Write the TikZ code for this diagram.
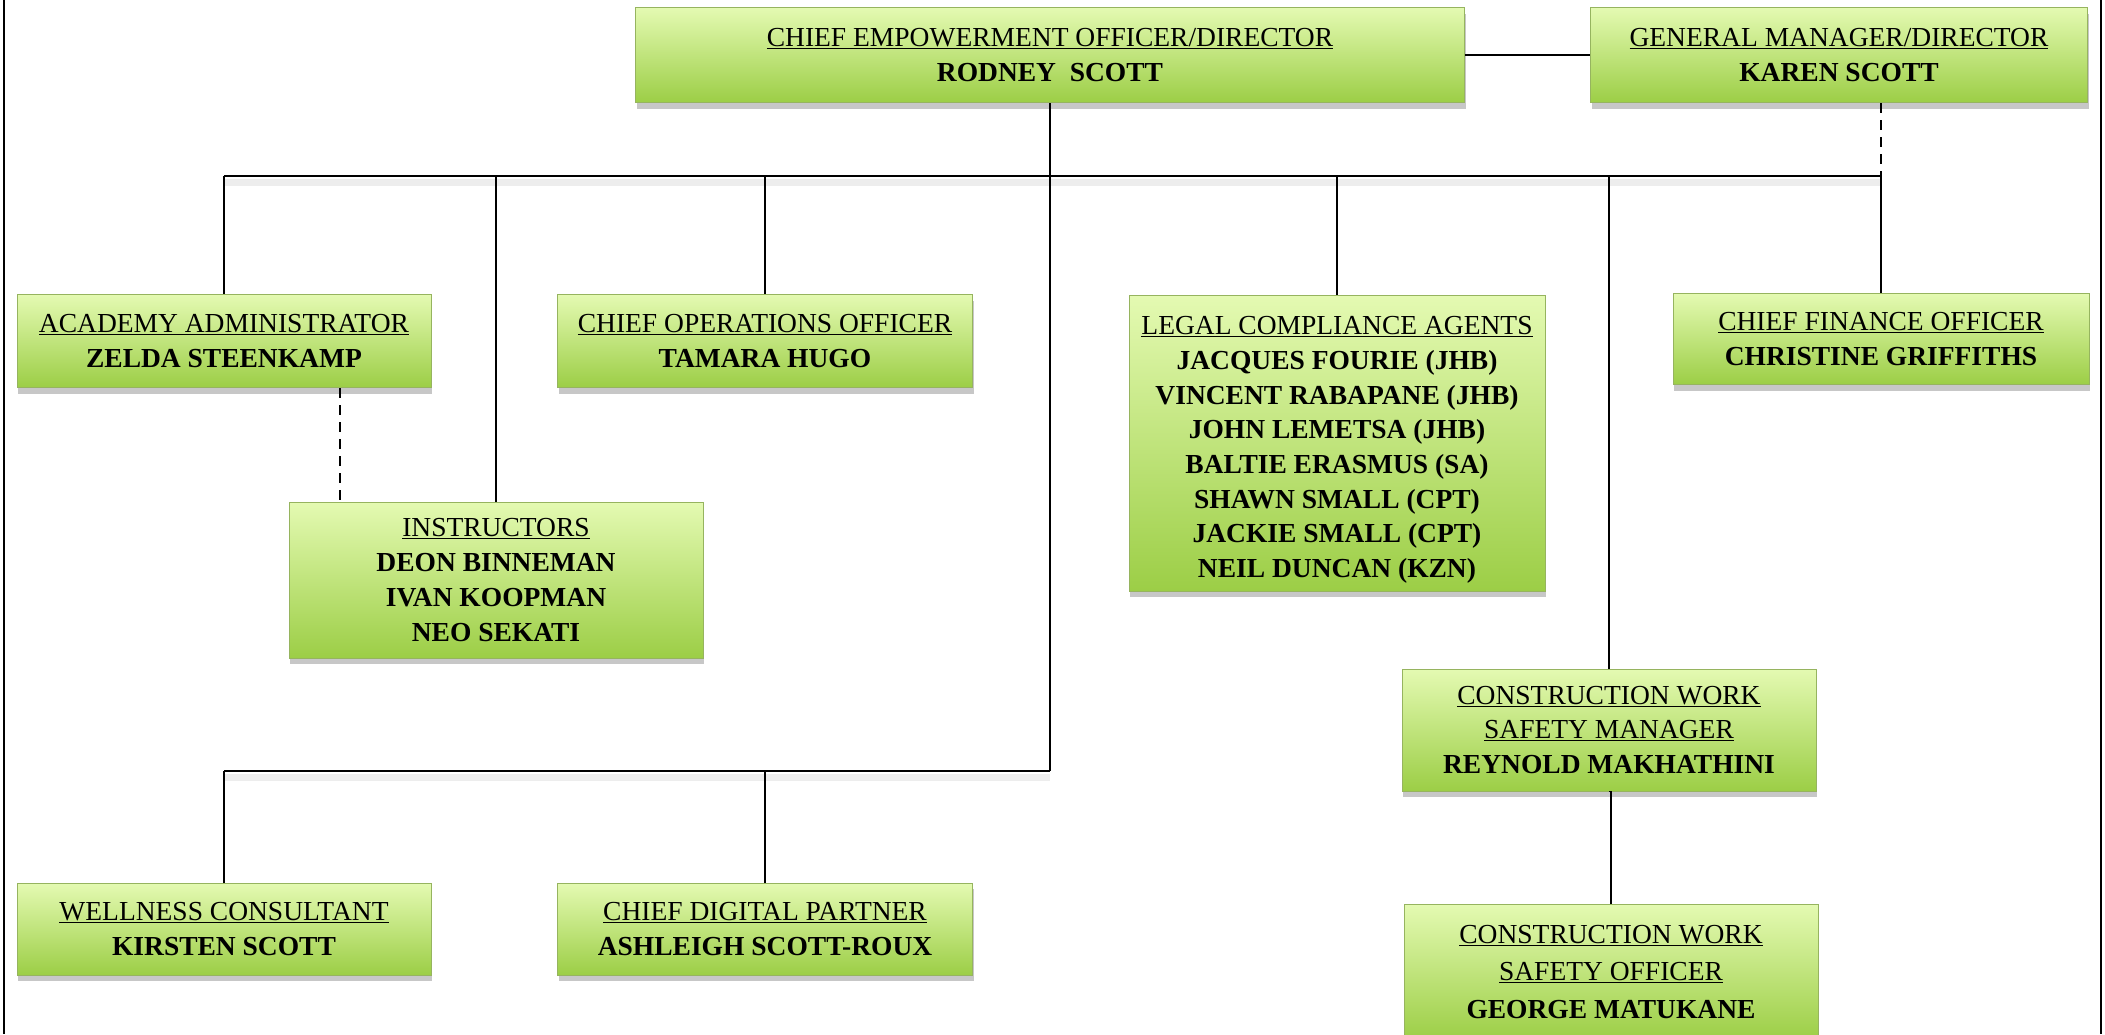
\documentclass[tikz,border=0pt]{standalone}
\usepackage{fontspec}
\setmainfont{Liberation Serif}
\usetikzlibrary{shadows}
\definecolor{gtop}{RGB}{228,250,178}
\definecolor{gmid}{RGB}{206,242,130}
\definecolor{gbot}{RGB}{156,206,70}
\definecolor{gedge}{RGB}{150,180,95}
\tikzset{
  orgbox/.style={draw=gedge, line width=1pt, top color=gtop, middle color=gmid, bottom color=gbot,
    shading angle=0, align=center, inner sep=0pt,
    font=\fontsize{27.5}{34.7}\selectfont,
    drop shadow={shadow xshift=1pt, shadow yshift=-6pt, opacity=0.22, fill=black}},
  conn/.style={line width=1.8pt, black},
  bar/.style={line width=2.4pt, black},
  barshade/.style={line width=7pt, black, opacity=0.07},
  dotconn/.style={line width=1.8pt, black, dash pattern=on 10pt off 7pt},
  frameline/.style={line width=2pt, black}
}
\begin{document}
\begin{tikzpicture}[x=1pt,y=-1pt]
\clip (0,0) rectangle (2105,1034);
\fill[white] (0,0) rectangle (2105,1034);
% frame
\coordinate (fTL) at (4,0); \coordinate (fBL) at (4,1034);
\coordinate (fTR) at (2101,0); \coordinate (fBR) at (2101,1034);
\draw[frameline] (fTL) -- (fBL);
\draw[frameline] (fTR) -- (fBR);

% helper coordinates
\coordinate (tb) at (0,176);
\coordinate (tbs) at (0,182);
\coordinate (bb) at (0,771);
\coordinate (bbs) at (0,777);
\coordinate (dA) at (340,0);
\coordinate (gmtail) at (0,208);

% nodes
\node[orgbox, minimum width=829pt, minimum height=95pt] (ceo) at (1050,55)
  {\underline{CHIEF EMPOWERMENT OFFICER/DIRECTOR}\\\textbf{RODNEY\ \ SCOTT}};
\node[orgbox, minimum width=497pt, minimum height=95pt] (gm) at (1839,55)
  {\underline{GENERAL MANAGER/DIRECTOR}\\\textbf{KAREN SCOTT}};
\node[orgbox, minimum width=414pt, minimum height=93pt] (aa) at (224,341)
  {\underline{ACADEMY ADMINISTRATOR}\\\textbf{ZELDA STEENKAMP}};
\node[orgbox, minimum width=415pt, minimum height=93pt] (coo) at (765,341)
  {\underline{CHIEF OPERATIONS OFFICER}\\\textbf{TAMARA HUGO}};
\node[orgbox, minimum width=416pt, minimum height=296pt] (legal) at (1337,443)
  {\rule{0pt}{32pt}\underline{LEGAL COMPLIANCE AGENTS}\\\textbf{JACQUES FOURIE (JHB)}\\\textbf{VINCENT RABAPANE (JHB)}\\\textbf{JOHN LEMETSA (JHB)}\\\textbf{BALTIE ERASMUS (SA)}\\\textbf{SHAWN SMALL (CPT)}\\\textbf{JACKIE SMALL (CPT)}\\\textbf{NEIL DUNCAN (KZN)}};
\node[orgbox, minimum width=416pt, minimum height=91pt] (cfo) at (1881,339)
  {\underline{CHIEF FINANCE OFFICER}\\\textbf{CHRISTINE GRIFFITHS}};
\node[orgbox, minimum width=414pt, minimum height=156pt] (instr) at (496,580)
  {\underline{INSTRUCTORS}\\\textbf{DEON BINNEMAN}\\\textbf{IVAN KOOPMAN}\\\textbf{NEO SEKATI}};
\node[orgbox, minimum width=414pt, minimum height=122pt] (cwm) at (1609,730)
  {\underline{CONSTRUCTION WORK}\\\underline{SAFETY MANAGER}\\\textbf{REYNOLD MAKHATHINI}};
\node[orgbox, minimum width=414pt, minimum height=136pt] (cwo) at (1611,972)
  {\underline{CONSTRUCTION WORK}\\[2.5pt]\underline{SAFETY OFFICER}\\[2.5pt]\textbf{GEORGE MATUKANE}};
\node[orgbox, minimum width=414pt, minimum height=92pt] (wel) at (224,929)
  {\underline{WELLNESS CONSULTANT}\\\textbf{KIRSTEN SCOTT}};
\node[orgbox, minimum width=415pt, minimum height=92pt] (dig) at (765,929)
  {\underline{CHIEF DIGITAL PARTNER}\\\textbf{ASHLEIGH SCOTT-ROUX}};

% connectors
\draw[conn] (ceo.east) -- (gm.west);
\draw[barshade] (aa.north |- tbs) -- (cfo.north |- tbs);
\draw[barshade] (wel.north |- bbs) -- (ceo.south |- bbs);
\draw[conn] (ceo.south) -- (ceo.south |- bb);
\draw[bar] (aa.north |- tb) -- (cfo.north |- tb);
\draw[conn] (aa.north |- tb) -- (aa.north);
\draw[conn] (instr.north |- tb) -- (instr.north);
\draw[conn] (coo.north |- tb) -- (coo.north);
\draw[conn] (legal.north |- tb) -- (legal.north);
\draw[conn] (cwm.north |- tb) -- (cwm.north);
\draw[conn] (cfo.north |- tb) -- (cfo.north);
\draw[dotconn] (cfo.north |- gm.south) -- (cfo.north |- gmtail);
\draw[dotconn] (aa.south -| dA) -- (instr.north -| dA);
\draw[bar] (wel.north |- bb) -- (ceo.south |- bb);
\draw[conn] (wel.north |- bb) -- (wel.north);
\draw[conn] (dig.north |- bb) -- (dig.north);
\draw[conn] (cwm.south) -- (cwm.south -| cwo.north) -- (cwo.north);
\end{tikzpicture}
\end{document}
